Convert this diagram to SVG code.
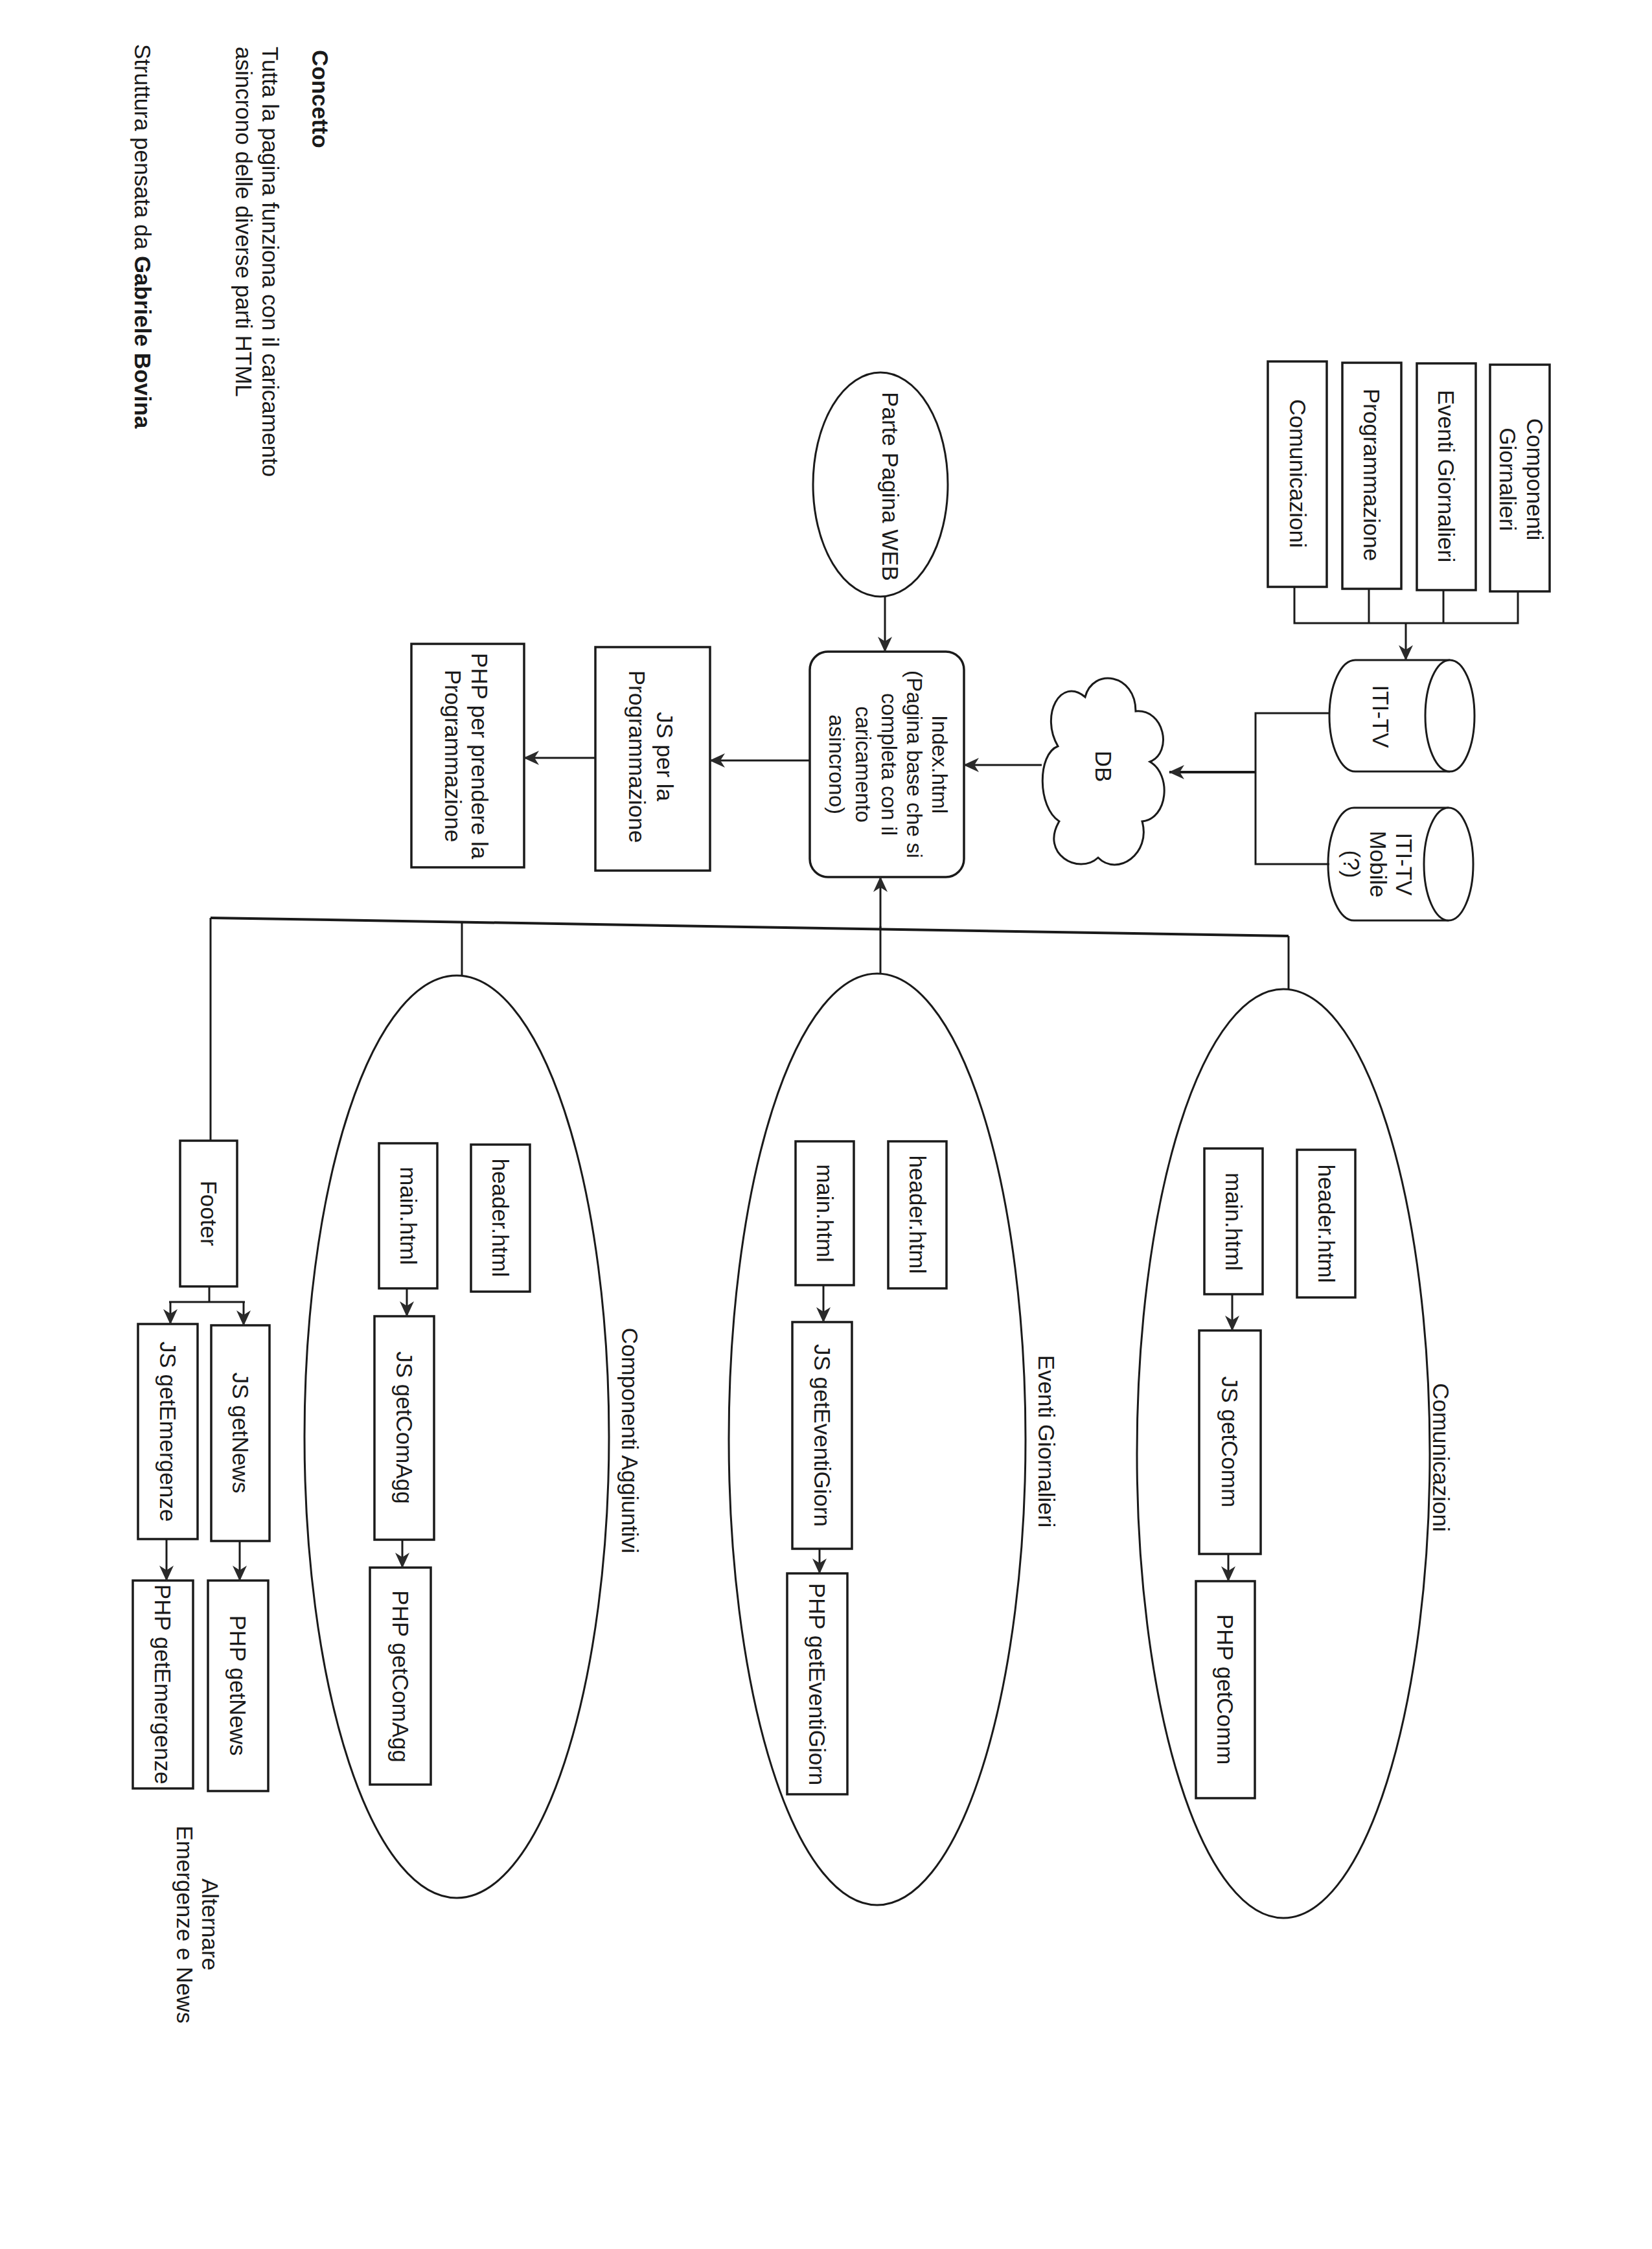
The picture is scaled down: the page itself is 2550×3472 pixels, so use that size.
<svg xmlns="http://www.w3.org/2000/svg" width="2550" height="3472" viewBox="0 0 2550 3472">
<defs>
<style>
.t{font-family:"Liberation Sans",Arial,sans-serif;font-size:35px;fill:#1a1a1a}
.c{text-anchor:middle;dominant-baseline:central}
.b{font-weight:bold}
.box{fill:#fff;stroke:#1a1a1a;stroke-width:3.5}
.shape{fill:#fff;stroke:#1a1a1a;stroke-width:3}
.ln{fill:none;stroke:#1a1a1a;stroke-width:3}
.arw{fill:none;stroke:#1a1a1a;stroke-width:3;marker-end:url(#ah)}
</style>
<marker id="ah" viewBox="0 0 24 24" refX="23" refY="12" markerWidth="24" markerHeight="24" markerUnits="userSpaceOnUse" orient="auto">
<path d="M0,1 L24,12 L0,23 L7,12 z" fill="#2a2a2a"/>
</marker>
</defs>
<rect x="0" y="0" width="2550" height="3472" fill="#fff"/>

<g id="note">
<text class="t b" transform="translate(482,77) rotate(90)">Concetto</text>
<text class="t" transform="translate(405,72) rotate(90)">Tutta la pagina funziona con il caricamento</text>
<text class="t" transform="translate(364,72) rotate(90)">asincrono delle diverse parti HTML</text>
<text class="t" transform="translate(208,68) rotate(90)">Struttura pensata da  <tspan class="b">Gabriele Bovina</tspan></text>
</g>

<g id="src-comunicazioni">
<rect class="box" x="1957" y="558" width="91" height="348"/>
<text class="t c" transform="translate(2003,731) rotate(90)">Comunicazioni</text>
</g>
<g id="src-programmazione">
<rect class="box" x="2072" y="560" width="91" height="349"/>
<text class="t c" transform="translate(2117,733) rotate(90)">Programmazione</text>
</g>
<g id="src-eventi">
<rect class="box" x="2187" y="561" width="91" height="350"/>
<text class="t c" transform="translate(2232,735) rotate(90)">Eventi Giornalieri</text>
</g>
<g id="src-componenti">
<rect class="box" x="2300" y="563" width="92" height="350"/>
<text class="t c" transform="translate(2369,740) rotate(90)">Componenti</text>
<text class="t c" transform="translate(2327,740) rotate(90)">Giornalieri</text>
</g>

<g id="cyl-ititv">
<path class="shape" d="M2238,1019 L2092,1019 A40,86 0 0 0 2092,1191 L2238,1191"/>
<ellipse class="shape" cx="2238" cy="1105" rx="38" ry="86"/>
<text class="t c" transform="translate(2131,1106) rotate(90)">ITI-TV</text>
</g>
<g id="cyl-mobile">
<path class="shape" d="M2236,1247 L2090,1247 A40,87 0 0 0 2090,1421 L2236,1421"/>
<ellipse class="shape" cx="2236" cy="1334" rx="38" ry="87"/>
<text class="t c" transform="translate(2167,1334) rotate(90)">ITI-TV</text>
<text class="t c" transform="translate(2127,1334) rotate(90)">Mobile</text>
<text class="t c" transform="translate(2086,1334) rotate(90)">(?)</text>
</g>

<g id="db">
<path class="shape" transform="translate(1805,1036) rotate(90)" d="M62,52 C58,8 125,-6 140,30 C160,-4 228,2 232,42 C282,28 318,80 288,110 C316,140 282,200 232,170 C210,204 128,204 116,172 C68,200 8,168 40,130 C-6,118 4,52 62,52 Z"/>
<text class="t c" transform="translate(1703,1183) rotate(90)">DB</text>
</g>

<g id="index">
<rect class="box" x="1250" y="1006" width="238" height="348" rx="28" ry="28"/>
<text class="t c" style="font-size:33px" transform="translate(1450,1180) rotate(90)">Index.html</text>
<text class="t c" style="font-size:33px" transform="translate(1411,1180) rotate(90)">(Pagina base che si</text>
<text class="t c" style="font-size:33px" transform="translate(1372,1180) rotate(90)">completa con il</text>
<text class="t c" style="font-size:33px" transform="translate(1332,1180) rotate(90)">caricamento</text>
<text class="t c" style="font-size:33px" transform="translate(1291,1180) rotate(90)">asincrono)</text>
</g>

<g id="parte-web">
<ellipse class="shape" cx="1359" cy="748" rx="104" ry="173"/>
<text class="t c" transform="translate(1374,751) rotate(90)">Parte Pagina WEB</text>
</g>

<g id="js-prog">
<rect class="box" x="919" y="999" width="177" height="345"/>
<text class="t c" transform="translate(1026,1168) rotate(90)">JS per la</text>
<text class="t c" transform="translate(983,1168) rotate(90)">Programmazione</text>
</g>
<g id="php-prog">
<rect class="box" x="635" y="994" width="174" height="345"/>
<text class="t c" transform="translate(740,1167) rotate(90)">PHP per prendere la</text>
<text class="t c" transform="translate(699,1167) rotate(90)">Programmazione</text>
</g>

<g id="grp-comunicazioni">
<ellipse class="shape" cx="1981" cy="2244" rx="226" ry="717"/>
<text class="t c" transform="translate(2224,2250) rotate(90)">Comunicazioni</text>
</g>
<g id="com-header"><rect class="box" x="2002" y="1775" width="90" height="228"/><text class="t c" transform="translate(2047,1889) rotate(90)">header.html</text></g>
<g id="com-main"><rect class="box" x="1859" y="1773" width="90" height="225"/><text class="t c" transform="translate(1904,1886) rotate(90)">main.html</text></g>
<g id="com-js"><rect class="box" x="1851" y="2054" width="95" height="345"/><text class="t c" transform="translate(1898,2226) rotate(90)">JS getComm</text></g>
<g id="com-php"><rect class="box" x="1846" y="2441" width="91" height="335"/><text class="t c" transform="translate(1891,2608) rotate(90)">PHP getComm</text></g>

<g id="grp-eventi">
<ellipse class="shape" cx="1354" cy="2222" rx="229" ry="719"/>
<text class="t c" transform="translate(1615,2225) rotate(90)">Eventi Giornalieri</text>
</g>
<g id="ev-header"><rect class="box" x="1371" y="1762" width="90" height="227"/><text class="t c" transform="translate(1416,1875) rotate(90)">header.html</text></g>
<g id="ev-main"><rect class="box" x="1228" y="1762" width="90" height="222"/><text class="t c" transform="translate(1273,1873) rotate(90)">main.html</text></g>
<g id="ev-js"><rect class="box" x="1223" y="2041" width="92" height="350"/><text class="t c" transform="translate(1269,2216) rotate(90)">JS getEventiGiorn</text></g>
<g id="ev-php"><rect class="box" x="1215" y="2429" width="93" height="341"/><text class="t c" transform="translate(1261,2600) rotate(90)">PHP getEventiGiorn</text></g>

<g id="grp-componenti">
<ellipse class="shape" cx="705" cy="2218" rx="235" ry="712"/>
<text class="t c" transform="translate(972,2224) rotate(90)">Componenti Aggiuntivi</text>
</g>
<g id="ca-header"><rect class="box" x="727" y="1767" width="91" height="227"/><text class="t c" transform="translate(772,1880) rotate(90)">header.html</text></g>
<g id="ca-main"><rect class="box" x="585" y="1765" width="90" height="224"/><text class="t c" transform="translate(630,1877) rotate(90)">main.html</text></g>
<g id="ca-js"><rect class="box" x="578" y="2032" width="92" height="345"/><text class="t c" transform="translate(624,2204) rotate(90)">JS getComAgg</text></g>
<g id="ca-php"><rect class="box" x="571" y="2420" width="94" height="335"/><text class="t c" transform="translate(618,2588) rotate(90)">PHP getComAgg</text></g>

<g id="footer"><rect class="box" x="278" y="1761" width="88" height="225"/><text class="t c" transform="translate(322,1873) rotate(90)">Footer</text></g>
<g id="js-news"><rect class="box" x="326" y="2046" width="90" height="333"/><text class="t c" transform="translate(371,2212) rotate(90)">JS getNews</text></g>
<g id="js-emerg"><rect class="box" x="213" y="2044" width="92" height="332"/><text class="t c" transform="translate(259,2210) rotate(90)">JS getEmergenze</text></g>
<g id="php-news"><rect class="box" x="321" y="2440" width="93" height="325"/><text class="t c" transform="translate(367,2602) rotate(90)">PHP getNews</text></g>
<g id="php-emerg"><rect class="box" x="205" y="2440" width="93" height="321"/><text class="t c" transform="translate(251,2600) rotate(90)">PHP getEmergenze</text></g>

<g id="note-alternare">
<text class="t" text-anchor="middle" transform="translate(312,2971) rotate(90)">Alternare</text>
<text class="t" text-anchor="middle" transform="translate(273,2971) rotate(90)">Emergenze e News</text>
</g>

<g id="connectors">
<polyline class="ln" points="1998,906 1998,962 2343,962 2343,913"/>
<line class="ln" x1="2113" y1="909" x2="2113" y2="962"/>
<line class="ln" x1="2228" y1="911" x2="2228" y2="962"/>
<line class="arw" x1="2170" y1="962" x2="2170" y2="1019"/>
<polyline class="ln" points="2052,1101 1938,1101 1938,1334 2052,1334"/>
<line class="arw" x1="1938" y1="1192" x2="1805" y2="1192" style="stroke-width:4"/>
<line class="arw" x1="1608" y1="1181" x2="1488" y2="1181"/>
<line class="arw" x1="1366" y1="921" x2="1366" y2="1006"/>
<line class="arw" x1="1250" y1="1174" x2="1096" y2="1174"/>
<line class="arw" x1="919" y1="1170" x2="809" y2="1170"/>
<line class="ln" x1="325" y1="1417" x2="1989" y2="1445" style="stroke-width:4"/>
<line class="ln" x1="325" y1="1417" x2="325" y2="1761"/>
<line class="ln" x1="713" y1="1423" x2="713" y2="1507"/>
<line class="ln" x1="1359" y1="1503" x2="1359" y2="1430"/>
<line class="arw" x1="1359" y1="1434" x2="1359" y2="1354"/>
<line class="ln" x1="1989" y1="1445" x2="1989" y2="1527"/>
<line class="arw" x1="1902" y1="1998" x2="1902" y2="2054"/>
<line class="arw" x1="1896" y1="2399" x2="1896" y2="2441"/>
<line class="arw" x1="1271" y1="1984" x2="1271" y2="2041"/>
<line class="arw" x1="1265" y1="2391" x2="1265" y2="2429"/>
<line class="arw" x1="628" y1="1989" x2="628" y2="2032"/>
<line class="arw" x1="621" y1="2377" x2="621" y2="2420"/>
<line class="ln" x1="323" y1="1986" x2="323" y2="2010"/>
<line class="ln" x1="261" y1="2010" x2="378" y2="2010"/>
<line class="arw" x1="263" y1="2010" x2="263" y2="2044"/>
<line class="arw" x1="376" y1="2010" x2="376" y2="2046"/>
<line class="arw" x1="257" y1="2376" x2="257" y2="2440"/>
<line class="arw" x1="370" y1="2379" x2="370" y2="2440"/>
</g>
</svg>
